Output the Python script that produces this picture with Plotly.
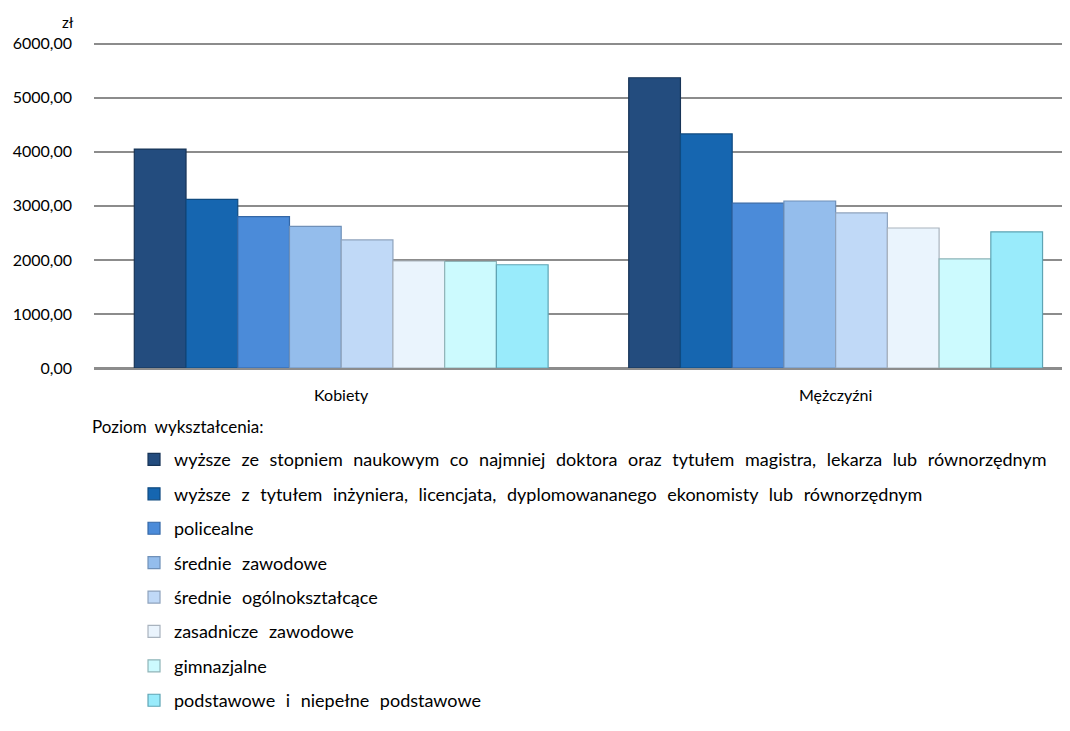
import plotly.graph_objects as go

categories = ["Kobiety", "Mężczyźni"]
levels = [
    "wyższe ze stopniem naukowym co najmniej doktora oraz tytułem magistra, lekarza lub równorzędnym",
    "wyższe z tytułem inżyniera, licencjata, dyplomowananego ekonomisty lub równorzędnym",
    "policealne",
    "średnie zawodowe",
    "średnie ogólnokształcące",
    "zasadnicze zawodowe",
    "gimnazjalne",
    "podstawowe i niepełne podstawowe",
]
kobiety = [4050, 3120, 2800, 2620, 2370, 1980, 1970, 1910]
mezczyzni = [5370, 4330, 3050, 3090, 2870, 2590, 2020, 2520]
y_ticks = [0, 1000, 2000, 3000, 4000, 5000, 6000]

colors = ["#234C7E", "#1666B0", "#4B8BD9", "#94BDEC", "#C0D9F7", "#EAF4FD", "#CCFAFE", "#99EBFB"]
edges = ["#173457", "#0F4A80", "#3467A6", "#6F90B8", "#8EA3BD", "#A9B3BE", "#8FB4B8", "#5FA4B4"]

FONT = "Lato"
WS_LEG = '<span style="word-spacing:6px">{}</span>'
WS_TITLE = '<span style="word-spacing:4px">{}</span>'

fig = go.Figure()
for i, name in enumerate(levels):
    fig.add_trace(go.Bar(
        x=categories,
        y=[kobiety[i], mezczyzni[i]],
        name=WS_LEG.format(name),
        legendgroup=f"g{i}",
        marker=dict(color=colors[i], line=dict(color=edges[i], width=1.2)),
    ))

fig.update_layout(
    width=1070, height=731,
    margin=dict(l=86, r=8, t=33, b=371, autoexpand=False),
    paper_bgcolor="white", plot_bgcolor="white",
    barmode="group", bargap=0.163, bargroupgap=0,
    separators=", ",
    font=dict(family=FONT, size=16, color="#000000"),
    showlegend=True,
    legend=dict(
        x=0.041, y=-0.224, xanchor="left", yanchor="top",
        tracegroupgap=8, font=dict(family=FONT, size=18, color="#000000"),
        itemclick=False, itemdoubleclick=False,
    ),
    annotations=[
        dict(text="zł", xref="paper", yref="paper", x=-0.0185, y=1.058,
             xanchor="right", yanchor="middle", showarrow=False,
             font=dict(family=FONT, size=15)),
        dict(text=WS_TITLE.format("Poziom wykształcenia:"), xref="paper", yref="paper",
             x=-0.004, y=-0.180, xanchor="left", yanchor="middle", showarrow=False,
             font=dict(family=FONT, size=17)),
    ],
)
fig.update_xaxes(range=[-0.5, 1.474], showgrid=False, showline=False, ticks="",
                 automargin=False, ticklabelstandoff=16,
                 tickfont=dict(family=FONT, size=16))
fig.update_yaxes(range=[0, 6050], tickvals=y_ticks, tickformat=".2f",
                 showgrid=True, gridcolor="#8C8C8C", gridwidth=2,
                 zeroline=True, zerolinecolor="#8C8C8C", zerolinewidth=3,
                 showline=False, ticks="", ticklabelstandoff=21, automargin=False,
                 tickfont=dict(family=FONT, size=16))

fig.write_html("out.html")
